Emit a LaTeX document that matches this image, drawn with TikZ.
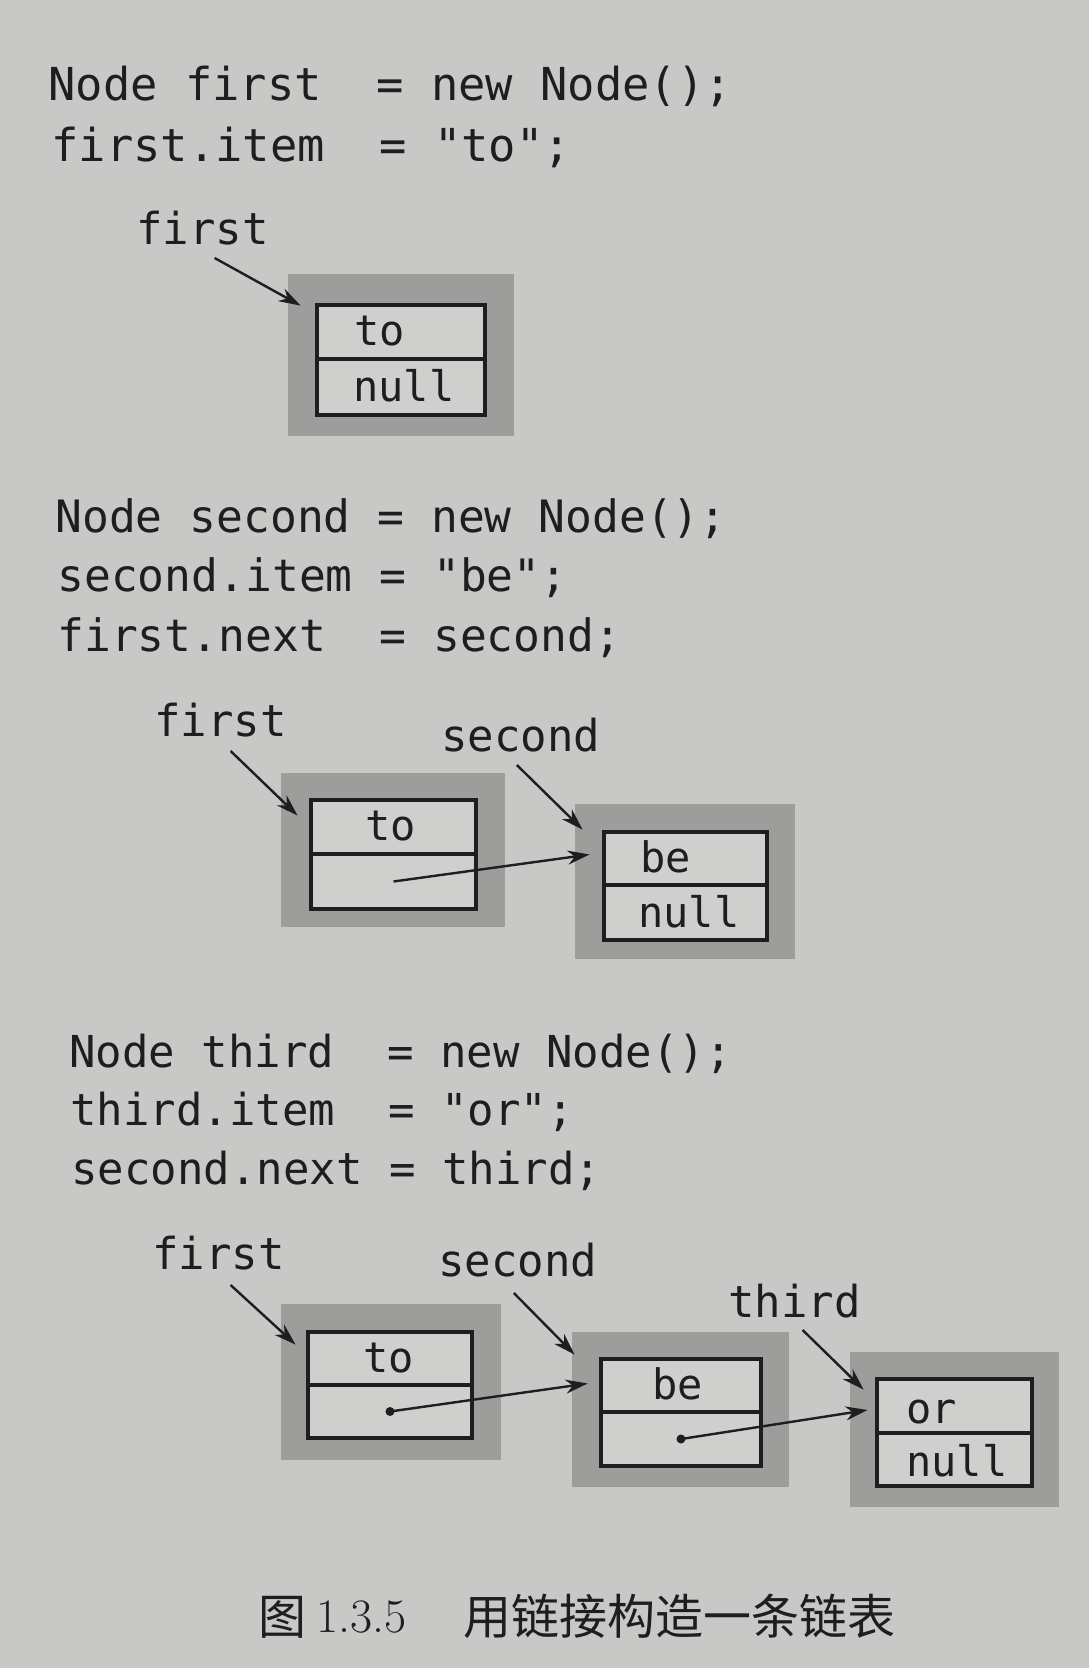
\documentclass[tikz,border=0pt]{standalone}
\usepackage{fontspec}
\setmonofont{DejaVu Sans Mono}
\newfontfamily\cjk{Noto Sans CJK SC}
\usetikzlibrary{arrows.meta,calc}
\definecolor{paper}{HTML}{C8C8C6}
\definecolor{shade}{HTML}{9D9D9B}
\definecolor{cellbg}{HTML}{CFCFCD}
\definecolor{ink}{HTML}{1E1E1E}
\begin{document}
\begin{tikzpicture}[x=0.5pt,y=-0.5pt,
 code/.style={anchor=base west, inner sep=0pt, font=\fontsize{22}{26}\selectfont\ttfamily, text=ink},
 codeA/.style={code, font=\fontsize{22.7}{26}\selectfont\ttfamily},
 codeB/.style={code, font=\fontsize{22.3}{26}\selectfont\ttfamily},
 celltext/.style={anchor=base west, inner sep=0pt, font=\fontsize{21}{25}\selectfont\ttfamily, text=ink},
 outerbox/.style={fill=shade, draw=none, inner sep=0pt},
 cell/.style={draw=ink, fill=cellbg, line width=1.6pt, inner sep=0pt},
 ptr/.style={draw=ink, line width=1.2pt, -{Stealth[length=11pt,width=7pt]}},
 dotnode/.style={circle, fill=ink, inner sep=0pt, minimum size=4.5pt},
 captext/.style={anchor=base west, inner sep=0pt, text=ink}]

\fill[paper] (0,0) rectangle (1089,1668);
\useasboundingbox (0,0) rectangle (1089,1668);

% ---------------- block 1 ----------------
\node[codeA] (k11) at (48,101) {Node~first~~=~new~Node();};
\node[codeA] (k12) at (51,162) {first.item~~=~"to";};

\node[outerbox, minimum width=113pt, minimum height=81pt] (o1) at (401,355) {};
\node[cell, minimum width=84pt, minimum height=27pt] (c1t) at (401,332) {};
\node[cell, minimum width=84pt, minimum height=28pt] (c1b) at (401,387) {};
\node[celltext] (t1a) at (354,346) {to};
\node[celltext] (t1b) at (353,402) {null};
\node[code] (lf1) at (136,245) {first};
\draw[ptr] ($(lf1.south)+(12,12)$) -- ($(o1.north west)+(13,32)$);

% ---------------- block 2 ----------------
\node[codeB] (k21) at (55,532) {Node~second~=~new~Node();};
\node[codeB] (k22) at (57,591) {second.item~=~"be";};
\node[codeB] (k23) at (57,651) {first.next~~=~second;};

\node[outerbox, minimum width=112pt, minimum height=77pt] (o2a) at (393,850) {};
\node[cell, minimum width=82.5pt, minimum height=27pt] (c2at) at (393.5,827) {};
\node[cell, minimum width=82.5pt, minimum height=27.5pt] (c2ab) at (393.5,881.5) {};
\node[celltext] (t2a) at (365,840) {to};

\node[outerbox, minimum width=110pt, minimum height=77.5pt] (o2b) at (685,881.5) {};
\node[cell, minimum width=81.5pt, minimum height=26.5pt] (c2bt) at (685.5,858.5) {};
\node[cell, minimum width=81.5pt, minimum height=27.5pt] (c2bb) at (685.5,912.5) {};
\node[celltext] (t2b) at (640,872) {be};
\node[celltext] (t2c) at (638,927) {null};

\node[code] (lf2) at (154,736) {first};
\node[code] (ls2) at (441,751) {second};
\draw[ptr] ($(lf2.south)+(10,14)$) -- ($(o2a.north west)+(17,43)$);
\draw[ptr] ($(ls2.south)+(-4,13)$) -- ($(o2b.north west)+(8,26)$);
\draw[ptr] (c2ab.center) -- ($(o2b.west |- c2bt.center)+(15,-4)$);

% ---------------- block 3 ----------------
\node[code] (k31) at (69,1067) {Node~third~~=~new~Node();};
\node[code] (k32) at (70,1125) {third.item~~=~"or";};
\node[code] (k33) at (71,1184) {second.next~=~third;};

\node[outerbox, minimum width=110pt, minimum height=78pt] (o3a) at (391,1382) {};
\node[cell, minimum width=82pt, minimum height=26.5pt] (c3at) at (390,1358.5) {};
\node[cell, minimum width=82pt, minimum height=26.5pt] (c3ab) at (390,1411.5) {};
\node[celltext] (t3a) at (363,1372) {to};

\node[outerbox, minimum width=108.5pt, minimum height=77.5pt] (o3b) at (680.5,1409.5) {};
\node[cell, minimum width=80pt, minimum height=26.5pt] (c3bt) at (681,1385.5) {};
\node[cell, minimum width=80pt, minimum height=27pt] (c3bb) at (681,1439) {};
\node[celltext] (t3b) at (652,1399) {be};

\node[outerbox, minimum width=104.5pt, minimum height=77.5pt] (o3c) at (954.5,1429.5) {};
\node[cell, minimum width=77.5pt, minimum height=27pt] (c3ct) at (954.5,1406) {};
\node[cell, minimum width=77.5pt, minimum height=26.5pt] (c3cb) at (954.5,1459.5) {};
\node[celltext] (t3c) at (906,1423) {or};
\node[celltext] (t3d) at (906,1476) {null};

\node[code] (lf3) at (152,1269) {first};
\node[code] (ls3) at (438,1276) {second};
\node[code] (lt3) at (728,1317) {third};
\draw[ptr] ($(lf3.south)+(12,15)$) -- ($(o3a.north west)+(15,41)$);
\draw[ptr] ($(ls3.south)+(-4,16)$) -- ($(o3b.north west)+(3,23)$);
\draw[ptr] ($(lt3.south)+(8,12)$) -- ($(o3c.north west)+(14,38)$);

\node[dotnode] (d3a) at (c3ab.center) {};
\node[dotnode] (d3b) at (c3bb.center) {};
\draw[ptr] (d3a.center) -- ($(o3b.west |- c3bt.center)+(16,-2)$);
\draw[ptr] (d3b.center) -- ($(o3c.west |- c3ct.center)+(18,4)$);

% ---------------- caption ----------------
\node[captext, font=\fontsize{24}{28}\selectfont\cjk] (cap1) at (258,1634) {图};
\node[captext, font=\fontsize{24}{28}\selectfont] (cap2) at (316,1632) {1.3.5};
\node[captext, font=\fontsize{24}{28}\selectfont\cjk] (cap3) at (463,1634) {用链接构造一条链表};
\end{tikzpicture}
\end{document}
